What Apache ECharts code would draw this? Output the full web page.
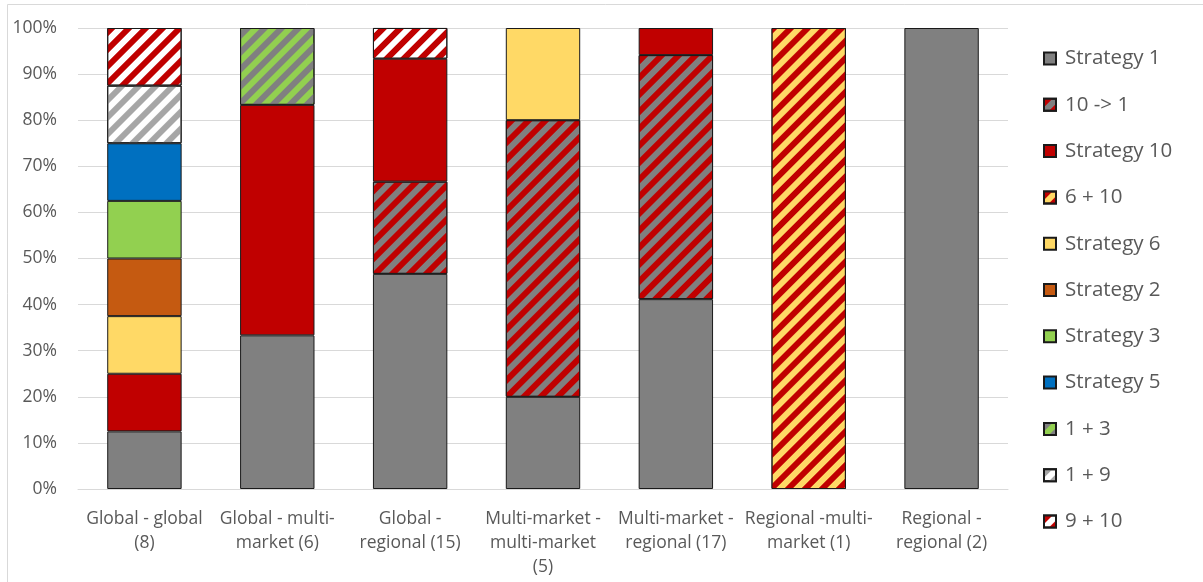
<!DOCTYPE html>
<html>
<head>
<meta charset="utf-8">
<script src="https://cdn.jsdelivr.net/npm/echarts@6/dist/echarts.min.js"></script>
<style>
  html, body { margin: 0; padding: 0; background: #fff; }
  #chart { width: 1203px; height: 582px; }
</style>
</head>
<body>
<div id="chart"></div>
<script>
// Category labels (line breaks as shown under the axis)
var categories = [
  'Global - global\n(8)',
  'Global - multi-\nmarket (6)',
  'Global -\nregional (15)',
  'Multi-market -\nmulti-market\n(5)',
  'Multi-market -\nregional (17)',
  'Regional -multi-\nmarket (1)',
  'Regional -\nregional (2)'
];

// Share of each strategy per category, in percent (null = not present)
var strategy1  = [12.5, 33.33, 46.67, 20,   41.18, null, 100];
var s10to1     = [null, null,  20,    60,   52.94, null, null];
var strategy10 = [12.5, 50,    26.67, null, 5.88,  null, null];
var s6plus10   = [null, null,  null,  null, null,  100,  null];
var strategy6  = [12.5, null,  null,  20,   null,  null, null];
var strategy2  = [12.5, null,  null,  null, null,  null, null];
var strategy3  = [12.5, null,  null,  null, null,  null, null];
var strategy5  = [12.5, null,  null,  null, null,  null, null];
var s1plus3    = [null, 16.67, null,  null, null,  null, null];
var s1plus9    = [12.5, null,  null,  null, null,  null, null];
var s9plus10   = [12.5, null,  6.67,  null, null,  null, null];

var yTicks = [0, 10, 20, 30, 40, 50, 60, 70, 80, 90, 100];

var GRAY = '#808080', RED = '#c00000', YELLOW = '#ffd966', ORANGE = '#c55a11',
    GREEN = '#92d050', BLUE = '#0070c0', LIGHTGRAY = '#a6a6a6', WHITE = '#ffffff';

// Diagonal "/" stripes drawn over the bar's base colour
function stripes(color) {
  return {
    symbol: 'rect',
    color: color,
    dashArrayX: [1, 0],
    dashArrayY: [6, 6],
    symbolSize: 1,
    rotation: -Math.PI / 4
  };
}

function bar(name, data, fill, decalColor) {
  var s = {
    name: name,
    type: 'bar',
    stack: 'total',
    data: data,
    barCategoryGap: '44%',
    itemStyle: { color: fill, borderColor: '#1a1a1a', borderWidth: 1 },
    emphasis: { disabled: true }
  };
  if (decalColor) s.itemStyle.decal = stripes(decalColor);
  return s;
}

var chart = echarts.init(document.getElementById('chart'));
var FONT = '"Open Sans", Lato, sans-serif';

chart.setOption({
  animation: false,
  backgroundColor: '#ffffff',
  textStyle: { fontFamily: FONT },
  graphic: [{
    type: 'polyline',
    shape: { points: [[7.5, 582], [7.5, 4.5], [1203, 4.5]] },
    style: { stroke: '#d9d9d9', lineWidth: 1, fill: null },
    silent: true
  }],
  grid: { left: 78, right: 195, top: 28, bottom: 93, containLabel: false },
  legend: {
    orient: 'vertical',
    left: 1038,
    top: 43,
    itemWidth: 12,
    itemHeight: 12,
    itemGap: 25.3,
    icon: 'rect',
    textStyle: { fontFamily: FONT, fontSize: 20.5, color: '#595959', padding: [0, 0, 0, 4] },
    data: ['Strategy 1', '10 -> 1', 'Strategy 10', '6 + 10', 'Strategy 6', 'Strategy 2',
           'Strategy 3', 'Strategy 5', '1 + 3', '1 + 9', '9 + 10']
  },
  xAxis: {
    type: 'category',
    data: categories,
    axisLine: { lineStyle: { color: '#d9d9d9', width: 1 } },
    axisTick: { show: false },
    axisLabel: {
      interval: 0,
      margin: 18,
      fontFamily: FONT,
      fontSize: 17.5,
      color: '#595959',
      lineHeight: 24.2,
      verticalAlign: 'top'
    }
  },
  yAxis: {
    type: 'value',
    min: yTicks[0],
    max: yTicks[yTicks.length - 1],
    interval: 10,
    axisLine: { show: false },
    axisTick: { show: false },
    splitLine: { lineStyle: { color: '#d9d9d9', width: 1 } },
    axisLabel: {
      margin: 21,
      fontFamily: FONT,
      fontSize: 17.5,
      color: '#595959',
      formatter: function (v) { return v + '%'; }
    }
  },
  series: [
    bar('Strategy 1', strategy1, GRAY),
    bar('10 -> 1', s10to1, GRAY, RED),
    bar('Strategy 10', strategy10, RED),
    bar('6 + 10', s6plus10, YELLOW, RED),
    bar('Strategy 6', strategy6, YELLOW),
    bar('Strategy 2', strategy2, ORANGE),
    bar('Strategy 3', strategy3, GREEN),
    bar('Strategy 5', strategy5, BLUE),
    bar('1 + 3', s1plus3, GREEN, GRAY),
    bar('1 + 9', s1plus9, WHITE, LIGHTGRAY),
    bar('9 + 10', s9plus10, WHITE, RED)
  ]
});
</script>
</body>
</html>
